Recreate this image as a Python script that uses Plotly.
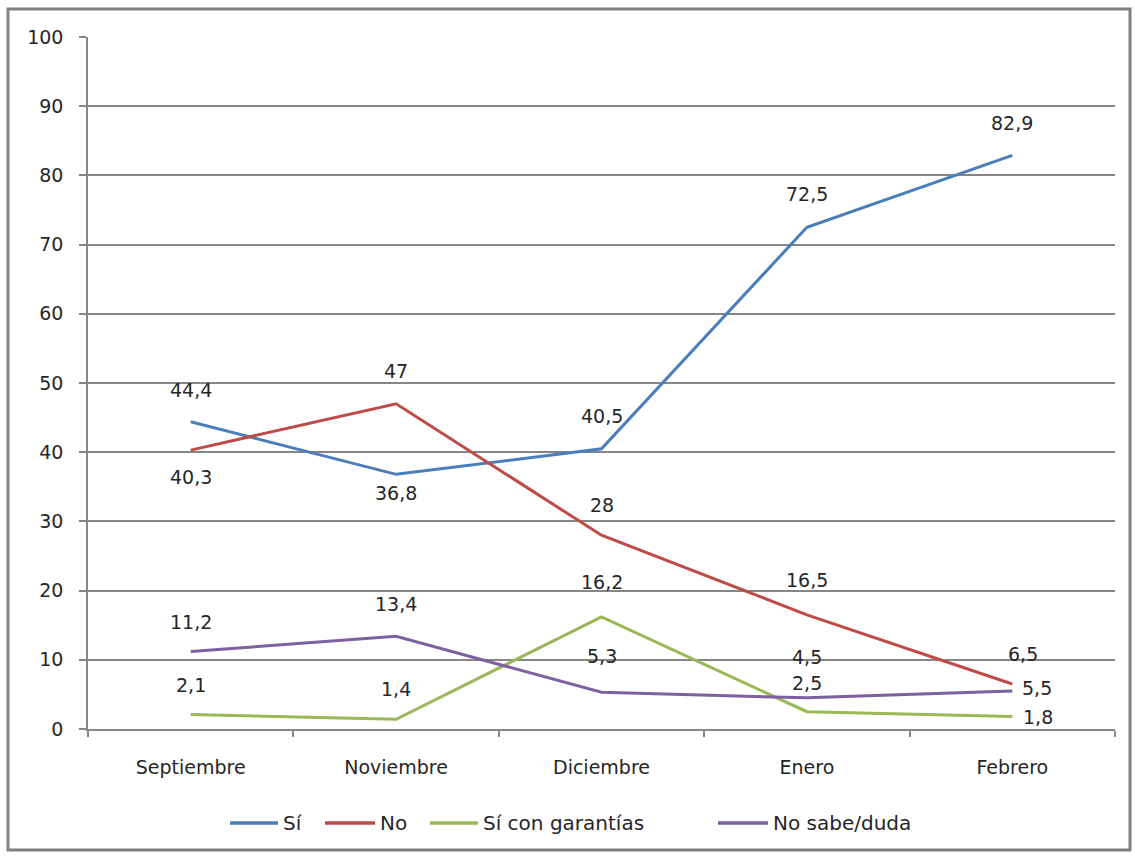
import plotly.graph_objects as go

months = ["Septiembre", "Noviembre", "Diciembre", "Enero", "Febrero"]
si = [44.4, 36.8, 40.5, 72.5, 82.9]
no = [40.3, 47, 28, 16.5, 6.5]
si_garantias = [2.1, 1.4, 16.2, 2.5, 1.8]
no_sabe = [11.2, 13.4, 5.3, 4.5, 5.5]

series_names = ["Sí", "No", "Sí con garantías", "No sabe/duda"]
series_values = [si, no, si_garantias, no_sabe]
colors = ["#4A7EBB", "#BE4B48", "#98B954", "#7D60A0"]

# label offsets in pixels (dx, dy) for each point of each series
label_offsets = [
    [(0, 32), (0, -19), (0, 33), (0, 33), (0, 32)],
    [(0, -27), (0, 33), (0, 30), (0, 35), (11, 30)],
    [(0, 29), (0, 30), (0, 35), (0, 29), (26, 0)],
    [(0, 30), (0, 32), (0, 36), (0, 41), (25, 3)],
]

# legend layout (pixel positions on the page)
W, H = 1135, 857
ML, MR, MT, MB = 88, 20, 37, 128
PW, PH = W - ML - MR, H - MT - MB
legend_row_y = 823
legend_line_x = [(230, 278), (325, 375), (430, 478), (718, 768)]


def px_to_paper_x(px):
    return (px - ML) / PW


def px_to_paper_y(py):
    return (H - MB - py) / PH


FONT = "DejaVu Sans"
FSIZE = 19
TXT = "#262626"
AXIS = "#868686"

fig = go.Figure()
annotations = []
shapes = []
for name, vals, color, offs in zip(series_names, series_values, colors, label_offsets):
    fig.add_trace(go.Scatter(
        x=months, y=vals, mode="lines", name=name,
        line=dict(color=color, width=3), showlegend=False,
    ))
    for m, v, (dx, dy) in zip(months, vals, offs):
        annotations.append(dict(
            x=m, y=v, xref="x", yref="y",
            text=f"{v:g}".replace(".", ","),
            showarrow=False, xshift=dx, yshift=dy,
            font=dict(family=FONT, size=FSIZE, color=TXT),
        ))

# legend row below the plot
ly = px_to_paper_y(legend_row_y)
for name, color, (x0, x1) in zip(series_names, colors, legend_line_x):
    shapes.append(dict(
        type="line", xref="paper", yref="paper",
        x0=px_to_paper_x(x0), x1=px_to_paper_x(x1), y0=ly, y1=ly,
        line=dict(color=color, width=3.5),
    ))
    annotations.append(dict(
        x=px_to_paper_x(x1 + 3), y=ly, xref="paper", yref="paper",
        xanchor="left", yanchor="middle", text=name, showarrow=False,
        font=dict(family=FONT, size=20, color=TXT),
    ))

# outer chart frame
shapes.append(dict(
    type="rect", xref="paper", yref="paper",
    x0=px_to_paper_x(8), x1=px_to_paper_x(1130),
    y0=px_to_paper_y(850), y1=px_to_paper_y(9),
    line=dict(color="#808080", width=3), fillcolor="rgba(0,0,0,0)",
    layer="below",
))

fig.update_layout(
    width=W, height=H,
    margin=dict(l=ML, r=MR, t=MT, b=MB),
    paper_bgcolor="white", plot_bgcolor="white",
    font=dict(family=FONT, size=FSIZE, color=TXT),
    showlegend=False,
    annotations=annotations,
    shapes=shapes,
)

fig.update_xaxes(
    type="category", tickson="boundaries", range=[-0.5, 4.5],
    ticks="outside", ticklen=6, tickcolor=AXIS, tickwidth=1.5,
    showline=True, linecolor=AXIS, linewidth=1.5,
    showgrid=False, ticklabelstandoff=20,
    tickfont=dict(family=FONT, size=FSIZE, color=TXT),
)
fig.update_yaxes(
    range=[0, 100], dtick=10,
    ticks="outside", ticklen=7, tickcolor=AXIS, tickwidth=1.5,
    showline=True, linecolor=AXIS, linewidth=1.5,
    showgrid=True, gridcolor=AXIS, gridwidth=1.5,
    zeroline=False, ticklabelstandoff=12,
    tickfont=dict(family=FONT, size=FSIZE, color=TXT),
)

fig.write_html("out.html")
